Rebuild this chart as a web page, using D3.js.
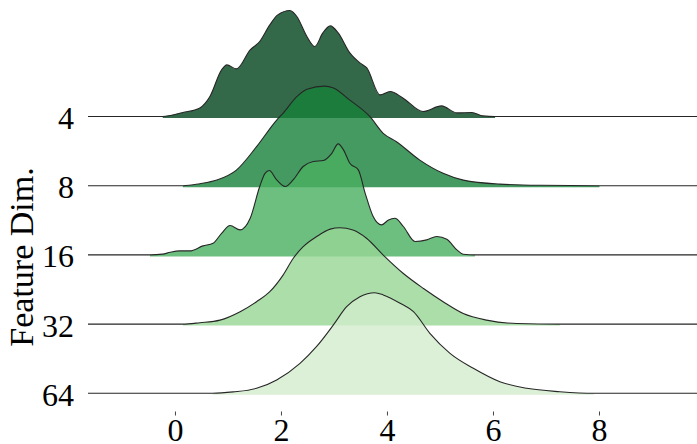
<!DOCTYPE html>
<html>
<head>
	<meta charset="utf-8">
	<script src="https://d3js.org/d3.v7.min.js"></script>
	<style type="text/css">
		body { margin: 0; background: #fff; }
		text { font-family: "Liberation Serif", "Times New Roman", serif; fill: #000; }
	</style>
</head>
<body>
<script>
    // rows, top to bottom
    var dims = ["4", "8", "16", "32", "64"];
    var fills = ["rgb(0,68,27)", "rgb(22,129,57)", "rgb(73,175,96)", "rgb(151,214,149)", "rgb(210,236,204)"];
    var xTicks = [0, 2, 4, 6, 8];

    // density: [x, density]
    var dens4 = [[-0.24,0],[0.14,0.02],[0.46,0.043],[0.65,0.10],[0.87,0.233],[0.97,0.258],[1.15,0.238],
        [1.41,0.333],[1.59,0.375],[1.78,0.458],[1.93,0.508],[2.16,0.53],[2.29,0.50],[2.48,0.40],[2.63,0.35],
        [2.78,0.418],[2.92,0.453],[3.07,0.418],[3.29,0.318],[3.48,0.268],[3.61,0.243],[3.86,0.108],[4.05,0.125],
        [4.29,0.093],[4.67,0.025],[5.02,0.053],[5.31,0.018],[5.59,0.02],[5.80,0.003],[6.03,0]];
    var dens8 = [[0.14,0],[0.46,0.01],[0.78,0.028],[1.15,0.078],[1.53,0.195],[1.91,0.328],[2.03,0.362],
        [2.29,0.445],[2.48,0.482],[2.82,0.498],[2.97,0.49],[3.29,0.428],[3.67,0.345],[3.92,0.262],[4.17,0.22],
        [4.61,0.128],[5.05,0.062],[5.43,0.028],[6.12,0.008],[6.88,0.002],[8.0,0]];
    var dens16 = [[-0.48,0],[-0.24,0.004],[-0.10,0.013],[0.08,0.02],[0.27,0.02],[0.52,0.045],[0.71,0.058],
        [0.87,0.108],[1.03,0.147],[1.22,0.125],[1.41,0.183],[1.59,0.342],[1.69,0.408],[1.77,0.422],[1.91,0.375],
        [2.07,0.342],[2.22,0.375],[2.41,0.442],[2.60,0.467],[2.79,0.472],[2.95,0.508],[3.07,0.555],[3.17,0.525],
        [3.29,0.458],[3.45,0.425],[3.58,0.308],[3.73,0.192],[3.89,0.15],[4.02,0.175],[4.14,0.183],[4.30,0.142],
        [4.52,0.067],[4.74,0.075],[4.93,0.092],[5.12,0.078],[5.31,0.025],[5.43,0.003],[5.65,0]];
    var dens32 = [[0.14,0],[0.46,0.007],[0.84,0.02],[1.22,0.062],[1.53,0.112],[1.78,0.162],[2.03,0.245],
        [2.22,0.328],[2.41,0.387],[2.66,0.437],[2.92,0.475],[3.10,0.482],[3.35,0.47],[3.61,0.428],[3.92,0.345],
        [4.30,0.253],[4.68,0.178],[5.05,0.112],[5.43,0.053],[5.87,0.02],[6.44,0.003],[7.25,0]];
    var dens64 = [[0.7,0],[1.09,0.007],[1.53,0.025],[1.91,0.067],[2.35,0.15],[2.66,0.233],[2.98,0.342],
        [3.23,0.433],[3.48,0.483],[3.76,0.503],[3.92,0.492],[4.24,0.45],[4.49,0.408],[4.80,0.30],[5.18,0.20],
        [5.62,0.125],[6.12,0.058],[6.63,0.025],[7.25,0.008],[7.9,0]];
    var series = [dens4, dens8, dens16, dens32, dens64];

    var width = 697, height = 444;

    var x = d3.scaleLinear().domain([-1.65, 9.84]).range([88, 697]);
    var row = d3.scalePoint().domain(dims).range([116.5, 393.3]);
    var h = d3.scaleLinear().domain([0, 0.5]).range([0, 100]);

    var svg = d3.select("body").append("svg")
        .attr("width", width)
        .attr("height", height);

    dims.forEach(function(dim, i) {
        var base = row(dim);
        var pts = series[i];
        var full = [[x.domain()[0], 0]].concat(pts, [[x.domain()[1], 0]]);
        var g = svg.append("g");

        var area = d3.area()
            .curve(d3.curveMonotoneX)
            .x(function(d) { return x(d[0]); })
            .y0(base + 1.5)
            .y1(function(d) { return base - h(d[1]); });

        var line = d3.line()
            .curve(d3.curveMonotoneX)
            .x(function(d) { return x(d[0]); })
            .y(function(d) { return base - h(d[1]); });

        g.append("path")
            .attr("d", area(pts))
            .attr("fill", fills[i])
            .attr("fill-opacity", 0.8);

        g.append("path")
            .attr("d", line(full))
            .attr("fill", "none")
            .attr("stroke", "#262626")
            .attr("stroke-width", 1.1);

        // row label
        svg.append("text")
            .attr("x", 74)
            .attr("y", base + 12.5)
            .attr("text-anchor", "end")
            .style("font-size", "32px")
            .text(dim);
    });

    // x axis: only ticks and labels
    var xa = svg.append("g");
    xa.selectAll("line")
        .data(xTicks)
        .enter().append("line")
        .attr("x1", function(d) { return x(d); })
        .attr("x2", function(d) { return x(d); })
        .attr("y1", 411.5)
        .attr("y2", 415.5)
        .attr("stroke", "#444")
        .attr("stroke-width", 1);
    xa.selectAll("text")
        .data(xTicks)
        .enter().append("text")
        .attr("x", function(d) { return x(d); })
        .attr("y", 441)
        .attr("text-anchor", "middle")
        .style("font-size", "32px")
        .text(function(d) { return d; });

    svg.append("text")
        .attr("transform", "translate(33,257) rotate(-90)")
        .attr("text-anchor", "middle")
        .style("font-size", "34px")
        .text("Feature Dim.");
</script>
</body>
</html>
